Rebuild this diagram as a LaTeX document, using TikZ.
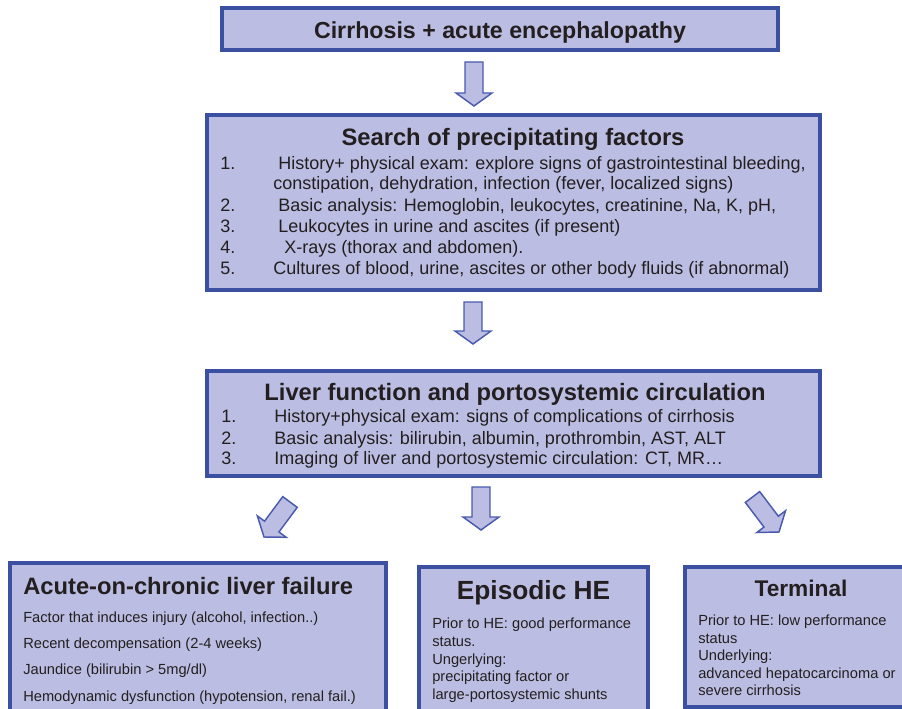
\documentclass[tikz,border=0pt]{standalone}
\usepackage{fontspec}
\setmainfont{Liberation Sans}
\usetikzlibrary{calc}
\definecolor{boxfill}{RGB}{187,190,226}
\definecolor{boxline}{RGB}{59,80,160}
\definecolor{arrline}{RGB}{74,90,174}
\definecolor{txt}{RGB}{35,31,32}
\newcommand\blockarr[3]{%
  \coordinate (#1t) at #2;
  \coordinate (#1p) at #3;
  \coordinate (#1h) at ($(#1p)!9.75pt!(#1t)$);
  \draw[barrow] ($(#1t)!6.75pt!90:(#1p)$) -- ($(#1h)!6.75pt!-90:(#1t)$) -- ($(#1h)!13.5pt!-90:(#1t)$)
    -- (#1p) -- ($(#1h)!13.5pt!90:(#1t)$) -- ($(#1h)!6.75pt!90:(#1t)$) -- ($(#1t)!6.75pt!-90:(#1p)$) -- cycle;}
\begin{document}
\begin{tikzpicture}[x=0.75pt,y=-0.75pt,
  box/.style={draw=boxline, fill=boxfill, line width=3pt, inner sep=0pt},
  barrow/.style={draw=arrline, fill=boxfill, line width=1.1pt, line join=miter},
  ttl/.style={font=\fontsize{17.8}{20}\selectfont\bfseries, text=txt, inner sep=0pt, anchor=base},
  bodytxt/.style={font=\fontsize{13.5}{16}\selectfont, text=txt, inner sep=0pt, anchor=base west},
  smalltxt/.style={font=\fontsize{11}{13}\selectfont, text=txt, inner sep=0pt, anchor=base west}]
\useasboundingbox (0,0) rectangle (902,709);
% boxes
\node[box, minimum width=417pt, minimum height=31.5pt] (top) at (500,29) {};
\node[box, minimum width=459.75pt, minimum height=131.25pt] (search) at (513.5,202.5) {};
\node[box, minimum width=459.75pt, minimum height=78.75pt] (liver) at (513.5,423.5) {};
\node[box, minimum width=282pt, minimum height=125.25pt] (aclf) at (198,646.5) {};
\node[box, minimum width=171.75pt, minimum height=122.25pt] (epi) at (533.5,648.5) {};
\node[box, minimum width=172.5pt, minimum height=105pt] (term) at (800,637) {};
% arrows
\blockarr{a1}{(474,62)}{(474,106)}
\blockarr{a2}{(473,302)}{(473,344)}
\blockarr{a3}{(290,502)}{(264,537)}
\blockarr{a4}{(481,487)}{(481,530)}
\blockarr{a5}{(752.5,497)}{(779,532)}
% top
\node[ttl, font=\fontsize{17.4}{20}\selectfont\bfseries] (t0) at (500,38.4) {Cirrhosis + acute encephalopathy};
% search box
\node[ttl] (t1) at (513,145.5) {Search of precipitating factors};
\node[bodytxt] (n11) at (220,169.5) {1.};
\node[bodytxt] (s11) at (278,169.5) {History+ physical exam: explore signs of gastrointestinal bleeding,};
\node[bodytxt] (s12) at (273,189.5) {constipation, dehydration, infection (fever, localized signs)};
\node[bodytxt] (n12) at (220,211.5) {2.};
\node[bodytxt] (s13) at (278,211.5) {Basic analysis: Hemoglobin, leukocytes, creatinine, Na, K, pH,};
\node[bodytxt] (n13) at (220,232.5) {3.};
\node[bodytxt] (s14) at (278,232.5) {Leukocytes in urine and ascites (if present)};
\node[bodytxt] (n14) at (220,253.5) {4.};
\node[bodytxt] (s15) at (284,253.5) {X-rays (thorax and abdomen).};
\node[bodytxt] (n15) at (220,274.5) {5.};
\node[bodytxt] (s16) at (273,274.5) {Cultures of blood, urine, ascites or other body fluids (if abnormal)};
% liver box
\node[ttl] (t2) at (515,400.5) {Liver function and portosystemic circulation};
\node[bodytxt] (n21) at (221,422.5) {1.};
\node[bodytxt] (l21) at (274,422.5) {History+physical exam: signs of complications of cirrhosis};
\node[bodytxt] (n22) at (221,444) {2.};
\node[bodytxt] (l22) at (274,444) {Basic analysis: bilirubin, albumin, prothrombin, AST, ALT};
\node[bodytxt] (n23) at (221,464.5) {3.};
\node[bodytxt] (l23) at (274,464.5) {Imaging of liver and portosystemic circulation: CT, MR…};
% aclf
\node[ttl, anchor=base west] (t3) at (23,594.5) {Acute-on-chronic liver failure};
\node[smalltxt] (c1) at (23,622) {Factor that induces injury (alcohol, infection..)};
\node[smalltxt] (c2) at (23,648) {Recent decompensation (2-4 weeks)};
\node[smalltxt] (c3) at (23,674) {Jaundice (bilirubin > 5mg/dl)};
\node[smalltxt] (c4) at (23,701) {Hemodynamic dysfunction (hypotension, renal fail.)};
% episodic
\node[ttl, font=\fontsize{19.7}{22}\selectfont\bfseries] (t4) at (533.5,599.5) {Episodic HE};
\node[smalltxt] (e1) at (432,628.5) {Prior to HE: good performance};
\node[smalltxt] (e2) at (432,646.3) {status.};
\node[smalltxt] (e3) at (432,664.1) {Ungerlying:};
\node[smalltxt] (e4) at (432,681.9) {precipitating factor or};
\node[smalltxt] (e5) at (432,699.7) {large-portosystemic shunts};
% terminal
\node[ttl, font=\fontsize{17}{20}\selectfont\bfseries] (t5) at (801,596) {Terminal};
\node[smalltxt] (r1) at (698,625.5) {Prior to HE: low performance};
\node[smalltxt] (r2) at (698,643.1) {status};
\node[smalltxt] (r3) at (698,660.7) {Underlying:};
\node[smalltxt] (r4) at (698,678.3) {advanced hepatocarcinoma or};
\node[smalltxt] (r5) at (698,695.9) {severe cirrhosis};
\end{tikzpicture}
\end{document}
